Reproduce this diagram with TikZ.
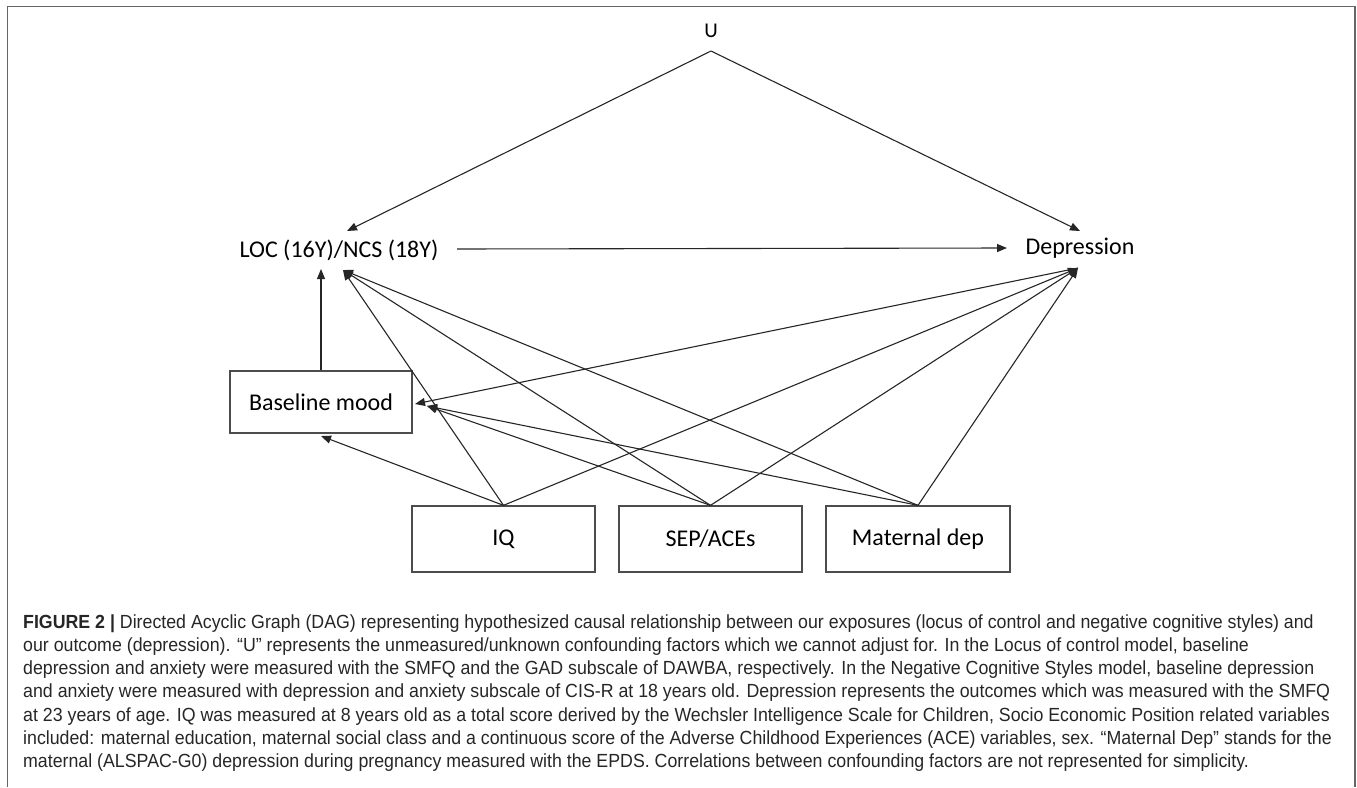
\documentclass[tikz,border=0pt]{standalone}
\usepackage{fontspec}
\setmainfont{Carlito}
\newfontfamily\capfont[FakeStretch=0.935]{Liberation Sans}
\usetikzlibrary{arrows.meta}
\begin{document}
\begin{tikzpicture}[x=1pt,y=-1pt,
  lbl/.style={font=\fontsize{24}{28}\selectfont, inner sep=0pt},
  box/.style={draw=black!70, line width=1.3pt, inner sep=0pt, font=\fontsize{24}{28}\selectfont},
  arr/.style={draw=black!85, line width=1.1pt, -{Triangle[length=10pt,width=8pt]}},
  capline/.style={anchor=base west, inner sep=0pt, font=\capfont\fontsize{19}{22}\selectfont, text=black!85}]
\useasboundingbox (0,0) rectangle (1357,787);
\draw[black!60, line width=1.5pt] (7.5,787) -- (7.5,6.5) -- (1355,6.5) -- (1355,787);

% nodes
\node[lbl, font=\fontsize{21}{24}\selectfont, anchor=base] (u) at (711,37) {U};
\coordinate (uapex) at (711,51);
\node[lbl, anchor=base] (loc) at (339,257) {LOC (16Y)/NCS (18Y)};
\node[lbl, anchor=base] (dep) at (1080,254) {Depression};
\node[box, minimum width=182pt, minimum height=62pt] (base) at (321,402) {Baseline mood};
\node[box, minimum width=183pt, minimum height=66pt] (iq) at (503.5,539) {IQ};
\node[box, minimum width=183pt, minimum height=66pt] (sep) at (710.5,539) {SEP/ACEs};
\node[box, minimum width=184pt, minimum height=66pt] (mat) at (918,539) {Maternal dep};

% connector end points
\coordinate (locT) at (347,231);
\coordinate (depT) at (1080,231);
\coordinate (locR) at (457,249);
\coordinate (depL) at (1007,248);
\coordinate (locB) at (343,270);
\coordinate (locB2) at (321,269);
\coordinate (depB) at (1078,268);
\coordinate (baseR1) at (415,404);
\coordinate (baseR2) at (427,406);
\coordinate (baseBot) at (321,436);

% connectors
\draw[arr] (uapex) -- (locT);
\draw[arr] (uapex) -- (depT);
\draw[arr] (locR) -- (depL);
\draw[arr] (base.north) -- (locB2);
\draw[arr] (iq.north) -- (locB);
\draw[arr] (sep.north) -- (locB);
\draw[arr] (mat.north) -- (locB);
\draw[arr] (iq.north) -- (depB);
\draw[arr] (sep.north) -- (depB);
\draw[arr] (mat.north) -- (depB);
\draw[arr] (depB) -- (baseR1);
\draw[arr] (iq.north) -- (baseBot);
\draw[arr] (sep.north) -- (baseR2);
\draw[arr] (mat.north) -- (baseR2);

% caption
\node[capline] (c1) at (23,628) {\textbf{FIGURE 2 |} Directed Acyclic Graph (DAG) representing hypothesized causal relationship between our exposures (locus of control and negative cognitive styles) and};
\node[capline] (c2) at (23,651.3) {our outcome (depression). “U” represents the unmeasured/unknown confounding factors which we cannot adjust for. In the Locus of control model, baseline};
\node[capline] (c3) at (23,674.6) {depression and anxiety were measured with the SMFQ and the GAD subscale of DAWBA, respectively. In the Negative Cognitive Styles model, baseline depression};
\node[capline] (c4) at (23,697.9) {and anxiety were measured with depression and anxiety subscale of CIS-R at 18 years old. Depression represents the outcomes which was measured with the SMFQ};
\node[capline] (c5) at (23,721.2) {at 23 years of age. IQ was measured at 8 years old as a total score derived by the Wechsler Intelligence Scale for Children, Socio Economic Position related variables};
\node[capline] (c6) at (23,744.5) {included: maternal education, maternal social class and a continuous score of the Adverse Childhood Experiences (ACE) variables, sex. “Maternal Dep” stands for the};
\node[capline] (c7) at (23,767.8) {maternal (ALSPAC-G0) depression during pregnancy measured with the EPDS. Correlations between confounding factors are not represented for simplicity.};
\end{tikzpicture}
\end{document}
